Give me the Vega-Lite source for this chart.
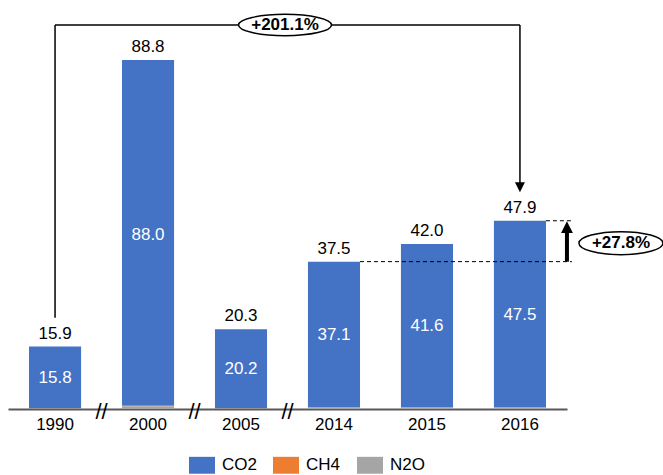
{
  "$schema": "https://vega.github.io/schema/vega-lite/v6.json",
  "width": 559,
  "height": 393,
  "autosize": "none",
  "padding": {"left": 8, "top": 16, "right": 96, "bottom": 66},
  "config": {
    "view": {"stroke": null},
    "font": "Liberation Sans",
    "legend": {
      "orient": "none",
      "legendX": 181,
      "legendY": 436,
      "direction": "horizontal",
      "labelFontSize": 17,
      "labelColor": "#000000",
      "labelFont": "Liberation Sans",
      "symbolType": "M-1,-0.65H1V0.65H-1Z",
      "symbolSize": 676,
      "symbolStrokeWidth": 0,
      "symbolOpacity": 1,
      "labelOffset": 7,
      "columnPadding": 16
    }
  },
  "datasets": {
    "gases": [
      {"year": "1990", "gas": "CO2", "value": 15.8},
      {"year": "1990", "gas": "CH4", "value": 0.03},
      {"year": "1990", "gas": "N2O", "value": 0.07},
      {"year": "2000", "gas": "CO2", "value": 88.0},
      {"year": "2000", "gas": "CH4", "value": 0.1},
      {"year": "2000", "gas": "N2O", "value": 0.7},
      {"year": "2005", "gas": "CO2", "value": 20.2},
      {"year": "2005", "gas": "CH4", "value": 0.03},
      {"year": "2005", "gas": "N2O", "value": 0.07},
      {"year": "2014", "gas": "CO2", "value": 37.1},
      {"year": "2014", "gas": "CH4", "value": 0.1},
      {"year": "2014", "gas": "N2O", "value": 0.3},
      {"year": "2015", "gas": "CO2", "value": 41.6},
      {"year": "2015", "gas": "CH4", "value": 0.1},
      {"year": "2015", "gas": "N2O", "value": 0.3},
      {"year": "2016", "gas": "CO2", "value": 47.5},
      {"year": "2016", "gas": "CH4", "value": 0.1},
      {"year": "2016", "gas": "N2O", "value": 0.3}
    ],
    "totals": [
      {"year": "1990", "total": 15.9, "co2": 15.8},
      {"year": "2000", "total": 88.8, "co2": 88.0},
      {"year": "2005", "total": 20.3, "co2": 20.2},
      {"year": "2014", "total": 37.5, "co2": 37.1},
      {"year": "2015", "total": 42.0, "co2": 41.6},
      {"year": "2016", "total": 47.9, "co2": 47.5}
    ],
    "breaks": [{"year": "2000"}, {"year": "2005"}, {"year": "2014"}],
    "hline": [{"year": "1990", "year2": "2016", "level": 97.7}],
    "vlines": [
      {"year": "1990", "low": 23.2, "high": 97.7},
      {"year": "2016", "low": 57.5, "high": 97.7}
    ],
    "arrowDown": [{"year": "2016", "level": 56.4}],
    "badge1": [{"year": "2005", "level": 97.7, "label": "+201.1%"}],
    "dashes": [
      {"year": "2014", "year2": "2016", "level": 37.5},
      {"year": "2016", "year2": "2016", "level": 47.9}
    ],
    "growth": [{"year": "2016", "low": 37.5, "high": 45.0, "head": 46.3}],
    "badge2": [{"year": "2016", "level": 42.2, "label": "+27.8%"}]
  },
  "encoding": {
    "x": {
      "field": "year",
      "type": "ordinal",
      "scale": {
        "domain": ["1990", "2000", "2005", "2014", "2015", "2016"],
        "paddingInner": 0.44,
        "paddingOuter": 0.226
      },
      "axis": {
        "title": null,
        "labelAngle": 0,
        "labelFontSize": 17,
        "labelColor": "#000000",
        "labelFont": "Liberation Sans",
        "ticks": false,
        "labelPadding": 7,
        "domainColor": "#595959",
        "domainWidth": 2
      }
    }
  },
  "layer": [
    {
      "data": {"name": "gases"},
      "transform": [
        {"calculate": "indexof(['N2O','CH4','CO2'], datum.gas)", "as": "rank"}
      ],
      "mark": {"type": "bar"},
      "encoding": {
        "y": {
          "field": "value",
          "type": "quantitative",
          "stack": "zero",
          "scale": {"domain": [0, 100], "nice": false},
          "axis": null
        },
        "color": {
          "field": "gas",
          "type": "nominal",
          "title": null,
          "scale": {
            "domain": ["CO2", "CH4", "N2O"],
            "range": ["#4472C4", "#ED7D31", "#A5A5A5"]
          }
        },
        "order": {"field": "rank", "type": "quantitative"}
      }
    },
    {
      "data": {"name": "totals"},
      "mark": {"type": "text", "fontSize": 17, "color": "#000000", "baseline": "alphabetic", "dy": -8},
      "encoding": {
        "y": {"field": "total", "type": "quantitative", "scale": {"domain": [0, 100], "nice": false}, "axis": null},
        "text": {"field": "total", "type": "quantitative", "format": ".1f"}
      }
    },
    {
      "data": {"name": "totals"},
      "transform": [{"calculate": "datum.total / 2", "as": "mid"}],
      "mark": {"type": "text", "fontSize": 17, "color": "#ffffff", "baseline": "middle"},
      "encoding": {
        "y": {"field": "mid", "type": "quantitative", "scale": {"domain": [0, 100], "nice": false}, "axis": null},
        "text": {"field": "co2", "type": "quantitative", "format": ".1f"}
      }
    },
    {
      "data": {"name": "breaks"},
      "mark": {"type": "text", "text": "//", "fontSize": 22, "color": "#000000", "baseline": "middle", "xOffset": -46.5, "dy": 3},
      "encoding": {
        "y": {"datum": 0, "type": "quantitative", "scale": {"domain": [0, 100], "nice": false}, "axis": null}
      }
    },
    {
      "data": {"name": "hline"},
      "mark": {"type": "rule", "color": "#000000", "strokeWidth": 1.5},
      "encoding": {
        "x2": {"field": "year2"},
        "y": {"field": "level", "type": "quantitative", "scale": {"domain": [0, 100], "nice": false}, "axis": null}
      }
    },
    {
      "data": {"name": "vlines"},
      "mark": {"type": "rule", "color": "#000000", "strokeWidth": 1.5},
      "encoding": {
        "y": {"field": "low", "type": "quantitative", "scale": {"domain": [0, 100], "nice": false}, "axis": null},
        "y2": {"field": "high"}
      }
    },
    {
      "data": {"name": "arrowDown"},
      "mark": {"type": "point", "shape": "M-1,-1L1,-1L0,1Z", "size": 100, "filled": true, "color": "#000000", "opacity": 1},
      "encoding": {
        "y": {"field": "level", "type": "quantitative", "scale": {"domain": [0, 100], "nice": false}, "axis": null}
      }
    },
    {
      "data": {"name": "badge1"},
      "mark": {"type": "point", "shape": "M-1,0A1,0.23 0 1,1 1,0A1,0.23 0 1,1 -1,0Z", "size": 8649, "filled": true, "fill": "#ffffff", "stroke": "#000000", "strokeWidth": 1.5, "opacity": 1, "xOffset": 44},
      "encoding": {
        "y": {"field": "level", "type": "quantitative", "scale": {"domain": [0, 100], "nice": false}, "axis": null}
      }
    },
    {
      "data": {"name": "badge1"},
      "mark": {"type": "text", "fontSize": 17, "fontWeight": "bold", "color": "#000000", "baseline": "middle", "xOffset": 44},
      "encoding": {
        "y": {"field": "level", "type": "quantitative", "scale": {"domain": [0, 100], "nice": false}, "axis": null},
        "text": {"field": "label"}
      }
    },
    {
      "data": {"name": "dashes"},
      "mark": {"type": "rule", "color": "#000000", "strokeWidth": 1, "strokeDash": [4, 3], "xOffset": 26, "x2Offset": 52},
      "encoding": {
        "x2": {"field": "year2"},
        "y": {"field": "level", "type": "quantitative", "scale": {"domain": [0, 100], "nice": false}, "axis": null}
      }
    },
    {
      "data": {"name": "growth"},
      "mark": {"type": "rule", "color": "#000000", "strokeWidth": 4, "xOffset": 47},
      "encoding": {
        "y": {"field": "low", "type": "quantitative", "scale": {"domain": [0, 100], "nice": false}, "axis": null},
        "y2": {"field": "high"}
      }
    },
    {
      "data": {"name": "growth"},
      "mark": {"type": "point", "shape": "M0,-1L1,1L-1,1Z", "size": 140, "filled": true, "color": "#000000", "opacity": 1, "xOffset": 47},
      "encoding": {
        "y": {"field": "head", "type": "quantitative", "scale": {"domain": [0, 100], "nice": false}, "axis": null}
      }
    },
    {
      "data": {"name": "badge2"},
      "mark": {"type": "point", "shape": "M-1,0A1,0.274 0 1,1 1,0A1,0.274 0 1,1 -1,0Z", "size": 7056, "filled": true, "fill": "#ffffff", "stroke": "#000000", "strokeWidth": 1.5, "opacity": 1, "xOffset": 101},
      "encoding": {
        "y": {"field": "level", "type": "quantitative", "scale": {"domain": [0, 100], "nice": false}, "axis": null}
      }
    },
    {
      "data": {"name": "badge2"},
      "mark": {"type": "text", "fontSize": 17, "fontWeight": "bold", "color": "#000000", "baseline": "middle", "xOffset": 101},
      "encoding": {
        "y": {"field": "level", "type": "quantitative", "scale": {"domain": [0, 100], "nice": false}, "axis": null},
        "text": {"field": "label"}
      }
    }
  ]
}
